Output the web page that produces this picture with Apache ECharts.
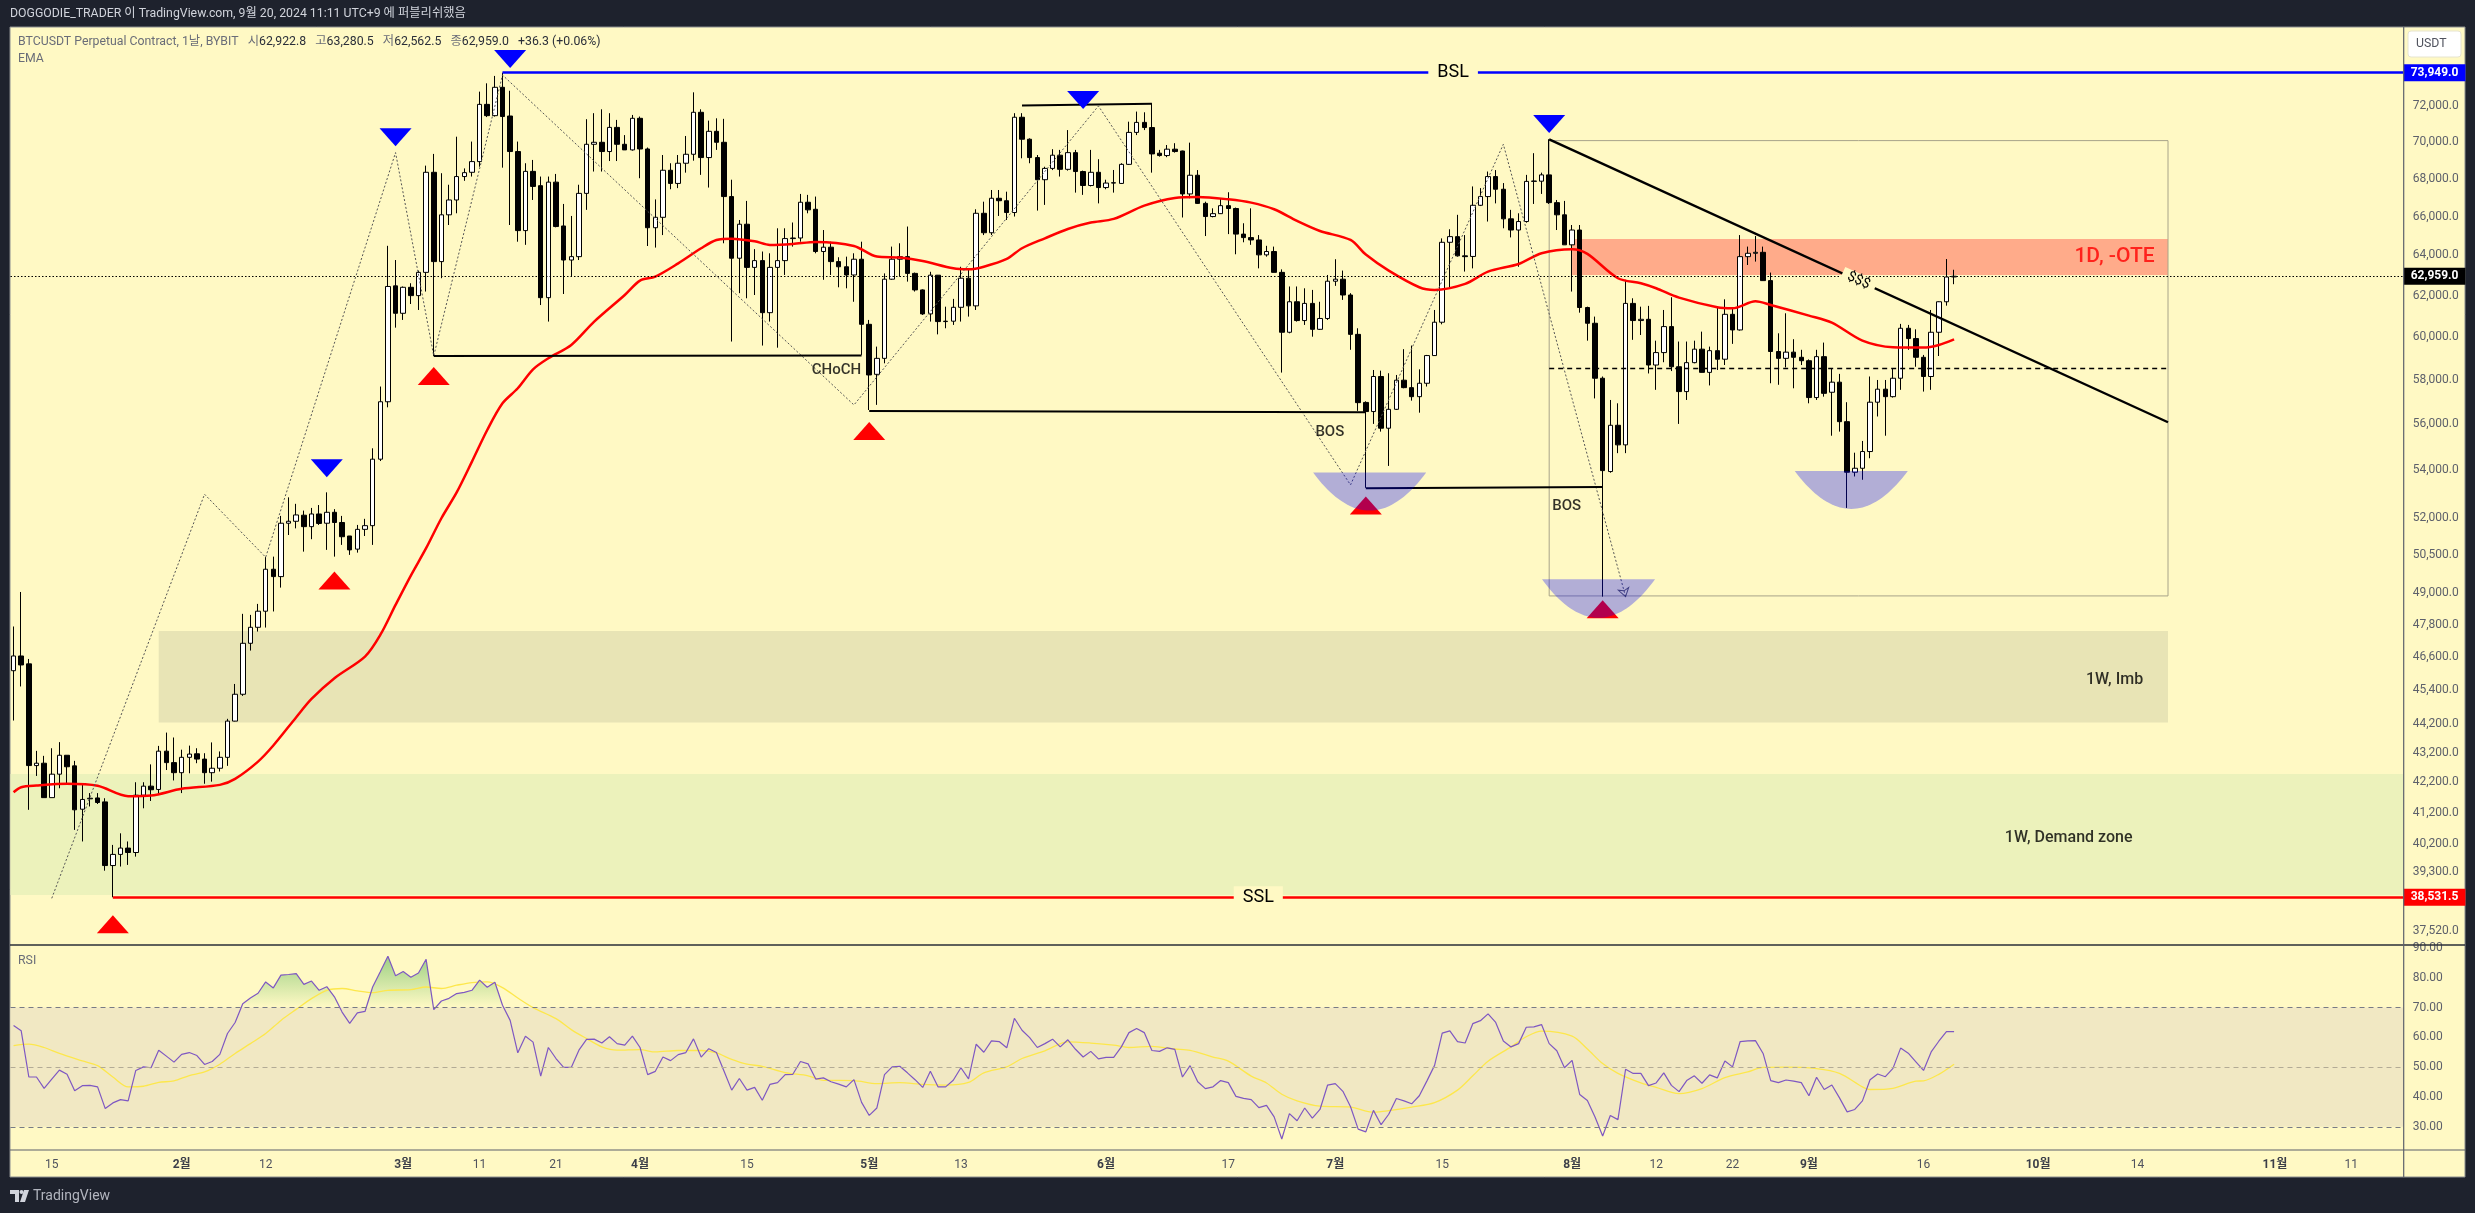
<!DOCTYPE html>
<html>
<head>
<meta charset="utf-8">
<title>BTCUSDT</title>
<script src="https://cdn.jsdelivr.net/npm/echarts@6/dist/echarts.min.js"></script>
<style>
html,body{margin:0;padding:0;background:#1e222d;}
#main{width:2475px;height:1213px;}
</style>
</head>
<body>
<div id="main"></div>
<script>
// daily candles from 2024-01-10, one row per day: open, close, low, high
var firstDay = '01-10';
var candles = [
// jan
[46090,46630,44310,47730],[46630,46300,45520,49050],[46340,42760,41290,46520],[42760,42840,42410,43260],[42840,41690,41690,43090],[41690,42470,41690,43350],[42470,43110,42000,43560],[43110,42720,42170,43110],[42750,41290,40640,42920],[41310,41630,40270,42170],[41650,41670,41400,41840],[41680,41530,41480,41840],[41550,39510,39350,41670],[39510,39860,38531.5,40160],[39860,40060,39480,40530],[40060,39920,39530,40270],[39920,41770,39790,42200],[41770,42070,41340,42200],[42070,41950,41580,42800],[41960,43250,41780,43430],[43250,42860,42610,43890],[42860,42520,42260,43720],
// feb
[42520,43040,41840,43300],[43040,43150,42500,43440],[43160,42980,42840,43350],[42980,42520,42150,43180],[42520,42670,42220,43550],[42670,43040,42560,43240],[43040,44290,42750,44370],[44290,45240,44280,45610],[45240,47100,45180,48210],[47100,47700,46830,48170],[47700,48310,47540,48590],[48310,49940,47690,50420],[49940,49650,48300,50440],[49650,51790,49220,52090],[51790,51870,51310,52860],[51870,52130,51580,52590],[52120,51650,50640,52310],[51650,52170,51140,52420],[52170,51780,51720,52540],[51790,52240,50710,53070],[52240,51820,50440,52370],[51820,51240,50910,52090],[51270,50710,50510,51270],[50740,51540,50600,51720],[51540,51690,51270,51970],[51690,54480,50910,54950],[54480,57010,54400,57700],[57010,62450,56760,64490],[62480,61140,60450,63770],
// mar
[61140,62410,60820,62450],[62410,62000,61590,62610],[62000,63150,61300,63240],[63150,68350,62200,68710],[68350,63690,59110,69350],[63690,66090,62860,68300],[66090,66870,65560,67680],[66870,68120,66170,70300],[68120,68330,67890,68560],[68350,68930,68120,70030],[68930,72120,68650,72850],[72120,71480,71400,73330],[71480,73100,71430,73760],[73100,71430,68600,73949],[71460,69480,65560,72900],[69480,65270,64700,70030],[65270,68400,64540,68840],[68400,67590,66870,69020],[67630,61900,61540,68120],[61900,67820,60740,68120],[67820,65480,65440,68260],[65510,63770,62080,66660],[63770,63940,62970,66030],[63940,67220,63770,67680],[67220,69880,66350,71280],[69880,69990,68390,71620],[69990,69480,68390,71840],[69480,70820,68960,71620],[70820,69880,68960,71240],[69880,69570,69570,70390],[69570,71330,69530,71520],
// apr
[71330,69620,68030,71430],[69620,65420,64480,69700],[65420,65960,64400,66900],[65960,68460,65040,69290],[68460,67750,67440,68840],[67750,68840,67500,69290],[68840,69330,68330,70340],[69330,71670,68980,72810],[71670,69150,68210,71840],[69150,70600,67530,71200],[70600,69990,69570,71330],[69990,67050,64620,71300],[67050,63860,59790,67950],[63860,65600,62120,65820],[65600,63400,61870,66820],[63400,63740,62030,64320],[63740,61170,59600,64200],[61170,63400,60740,64110],[63400,63740,59500,65390],[63740,64860,63020,65390],[64860,64890,64450,65690],[64890,66750,64700,67190],[66750,66350,66170,67140],[66380,64200,64110,67050],[64200,64420,62780,65300],[64420,63690,63020,64700],[63690,63430,62410,63910],[63430,63020,62360,63940],[63020,63810,61700,64110],[63810,60610,59160,64700],
// may
[60610,58230,56640,60820],[58260,59000,56870,59550],[59000,62810,58770,63100],[62810,63810,62780,64450],[63810,63940,62940,64620],[63940,63100,62690,65480],[63100,62280,62200,63140],[62280,61110,61060,62310],[61110,63010,60740,63180],[63010,60740,60130,63020],[60740,60760,60420,61460],[60760,61430,60580,61840],[61430,62860,60740,63430],[62860,61500,60980,63350],[61500,66170,61300,66380],[66170,65160,65040,66780],[65160,66960,65040,67400],[66960,66830,66030,67400],[66830,66210,65820,67310],[66210,71390,66000,71620],[71390,70160,69110,71620],[70160,69150,68840,70210],[69150,67950,66310,69290],[67950,68560,66610,68650],[68560,69280,68470,69610],[69280,68510,68120,69570],[68510,69420,68440,70670],[69420,68390,67260,69570],[68390,67640,67140,68440],[67640,68350,67590,69570],[68350,67530,66690,69060],
// jun
[67530,67770,67440,67950],[67770,67790,67260,68475],[67750,68780,67720,68840],[68780,70540,68750,71140],[70540,71100,70390,71710],[71100,70810,70670,71670],[70810,69350,68330,72180],[69390,69260,69200,69570],[69260,69610,69170,69840],[69610,69480,69420,69940],[69510,67190,65950,69530],[67190,68190,66960,69970],[68190,66690,66660,68470],[66690,66000,64990,66780],[66000,66150,65960,66430],[66150,66570,66140,66920],[66570,66420,65090,67280],[66420,65090,64060,66470],[65090,64910,64670,65650],[64910,64790,64540,66430],[64790,64030,63350,65040],[64030,64200,63940,64490],[64200,63150,63150,64450],[63150,60230,58340,63300],[60230,61700,60180,62450],[61700,60790,60740,62450],[60790,61620,60580,62360],[61620,60370,60020,62280],[60370,60890,60340,61700],[60890,62710,60820,63020],
// jul
[62710,62810,62480,63810],[62810,62030,61790,63240],[62030,60130,59400,62120],[60130,56970,56600,60420],[56980,56570,53260,57030],[56570,58160,56020,58460],[58160,55830,55680,58430],[55830,56670,54190,58310],[56670,57990,56640,58230],[57990,57650,57620,59430],[57650,57240,57060,59600],[57240,57850,56520,58490],[57850,59130,57700,59160],[59130,60710,59110,61300],[60710,64670,60610,64870],[64670,64960,62360,65340],[64960,63980,63940,66090],[63980,63940,63190,65040],[63950,66590,63350,67590],[66590,67050,66550,67500],[67050,68120,65740,68390],[68120,67440,66690,68470],[67440,65880,65390,67770],[65880,65300,64920,66350],[65300,65740,63430,66170],[65740,67860,65680,68210],[67860,67880,66660,69390],[67870,68210,67190,68330],[68210,66730,66660,70160],[66730,66090,65300,66870],[66090,64540,64540,66820],
// aug
[64540,65300,62200,65560],[65300,61420,61170,65560],[61420,60660,59830,61460],[60660,58080,57160,60980],[58080,53990,48870,58160],[53950,55960,53900,57090],[55960,55100,54740,56940],[55100,61620,54740,62780],[61620,60790,59870,61870],[60790,60850,60100,61460],[60850,58690,58300,61500],[58690,59270,57550,59830],[59270,60500,58820,61300],[60500,58610,58410,61920],[58610,57470,56020,59790],[57470,58800,57090,59790],[58800,59430,58770,59830],[59430,58350,58340,60260],[58350,59360,57750,59550],[59360,58960,58460,61460],[58960,61090,58690,61820],[61090,60340,59680,61380],[60340,63940,60310,65040],[63940,64110,63520,64450],[64110,64160,63690,64990],[64160,62740,62730,64450],[62740,59320,57850,63140],[59320,59000,57780,60180],[59000,59290,58580,61140],[59290,59050,57620,59900],[59050,58890,58690,59400],
// sep
[58890,57200,56940,58950],[57200,59080,57090,59400],[59080,57390,57240,59740],[57440,57900,55500,58540],[57900,56120,55680,58280],[56120,53920,52420,56990],[53920,54090,53740,54760],[54090,54810,53600,55270],[54810,56990,54520,58160],[56990,57580,56350,58000],[57580,57240,55500,58000],[57240,58080,57200,58540],[58080,60420,57550,60630],[60420,59930,59400,60580],[59930,59050,58610,60370],[59050,58160,57470,59160],[58160,60230,57550,61300],[60230,61700,59110,61720],[61700,62920,61510,63820],[62922.8,62959,62562.5,63280.5]
];

// EMA
var emaPoints = [
['01-10',41870],['01-11',42035],['01-13',42090],['01-17',42146],['01-21',42080],['01-25',41735],['01-28',41758],['02-01',41980],['02-06',42113],['02-08',42313],['02-11',42895],['02-13',43443],['02-16',44427],['02-18',45072],['02-21',45817],['02-25',46608],['02-27',47411],['02-29',48551],['03-02',49691],['03-04',50777],['03-06',51995],['03-08',53066],['03-10',54375],['03-12',55752],['03-14',56940],['03-16',57622],['03-18',58491],['03-20',59004],['03-23',59630],['03-26',60741],['03-30',62033],['04-01',62742],['04-03',62940],['04-06',63604],['04-09',64366],['04-11',64789],['04-13',64857],['04-16',64722],['04-18',64536],['04-21',64587],['04-24',64688],['04-29',64485],['05-02',63943],['05-05',63892],['05-08',63723],['05-12',63352],['05-14',63303],['05-16',63435],['05-19',63825],['05-21',64366],['05-24',64874],['05-27',65354],['05-30',65685],['06-02',65876],['06-06',66572],['06-10',66975],['06-13',67028],['06-17',66904],['06-20',66729],['06-23',66381],['06-26',65772],['06-29',65250],['07-03',64789],['07-05',64044],['07-08',63237],['07-12',62412],['07-14',62280],['07-18',62577],['07-21',63188],['07-25',63570],['07-28',64112],['08-01',64316],['08-03',64078],['08-07',62858],['08-10',62610],['08-12',62362],['08-15',61900],['08-20',61431],['08-22',61384],['08-25',61721],['08-27',61544],['09-01',61029],['09-04',60692],['09-08',59834],['09-12',59521],['09-16',59505],['09-18',59630],['09-20',59896]
];

// RSI, one value per candle
var rsi = [
63.96,62.2,46.7,46.7,42.9,46.0,49.0,47.6,42.1,43.8,43.9,43.4,36.1,38.0,39.1,38.7,48.9,50.1,49.8,55.7,53.7,51.7,
54.3,54.9,53.9,50.9,51.9,54.3,61.3,65.0,71.3,73.2,74.8,78.6,76.6,80.9,81.1,81.4,77.8,78.9,75.8,77.0,73.6,68.5,64.7,68.2,68.7,76.9,82.0,87.2,80.7,
82.1,80.2,81.6,86.2,69.3,72.2,73.1,74.7,75.1,75.8,79.2,76.8,78.5,70.8,65.7,54.8,60.4,58.4,47.0,56.6,52.9,49.9,49.9,55.7,59.3,59.4,58.1,60.2,57.9,57.4,60.4,
56.6,47.5,48.6,53.4,52.2,54.2,54.9,59.5,53.4,56.2,54.9,48.6,42.3,46.2,42.3,43.2,38.9,44.2,44.8,47.5,47.6,51.9,51.1,46.0,46.4,45.1,44.3,43.4,45.8,38.2,
33.8,36.3,47.5,50.1,50.3,48.1,45.8,43.2,48.6,43.4,43.4,45.6,49.8,46.1,57.7,55.0,58.8,58.6,56.5,66.4,62.4,59.9,56.6,57.9,59.4,56.8,59.2,56.0,53.4,55.3,52.8,
53.3,53.3,56.8,61.6,63.0,61.6,55.6,55.3,56.5,56.0,46.7,50.5,45.1,42.8,43.4,45.5,44.8,40.2,39.5,39.1,36.4,37.2,33.3,25.9,34.4,32.0,36.3,32.9,35.8,44.0,
44.5,41.9,36.7,29.2,28.3,35.5,30.7,34.2,39.5,38.7,37.7,40.4,45.4,50.6,61.4,62.2,58.6,58.1,64.6,65.6,67.9,65.0,58.8,56.8,57.9,63.4,63.5,64.3,57.9,55.5,49.8,
52.3,40.8,38.8,33.3,26.9,33.8,32.4,49.3,47.9,47.9,43.8,44.7,48.1,43.9,41.8,45.5,47.1,44.6,47.4,46.4,52.1,50.1,58.6,58.8,58.9,54.6,45.5,44.8,45.7,45.3,44.8,
40.4,46.6,42.5,44.0,39.7,35.0,35.8,38.7,45.8,47.7,46.8,49.6,56.4,54.7,51.8,48.9,55.1,58.7,61.9,61.9
];

// RSI moving average
var rsiMaPoints = [
['01-10',57.2],['01-12',57.7],['01-14',56.6],['01-16',54.6],['01-19',52.1],['01-21',50.5],['01-23',46.7],['01-25',43.4],['01-27',43.6],['01-29',44.9],['01-31',45.4],['02-02',47.2],['02-04',48.4],['02-06',51.0],['02-08',54.6],['02-10',57.9],['02-12',61.3],['02-14',65.7],['02-16',69.4],['02-18',73.0],['02-20',75.8],['02-22',76.4],['02-24',75.6],['02-26',75.0],['02-28',75.8],['03-02',76.0],['03-04',76.9],['03-06',76.4],['03-08',77.5],['03-10',78.4],['03-12',78.6],['03-14',76.7],['03-16',73.2],['03-18',70.0],['03-21',66.3],['03-23',62.6],['03-25',59.6],['03-27',56.8],['03-29',55.7],['04-01',55.9],['04-03',55.1],['04-06',55.6],['04-09',55.6],['04-11',54.8],['04-13',52.6],['04-15',51.0],['04-17',50.3],['04-20',48.2],['04-23',47.1],['04-25',45.6],
['04-29',45.5],['05-02',44.5],['05-05',44.8],['05-08',44.2],['05-11',44.0],['05-14',44.9],['05-16',48.1],['05-19',50.1],['05-21',52.9],['05-24',55.5],['05-27',58.5],['05-30',58.1],['06-02',57.4],['06-04',56.6],['06-07',57.0],['06-10',56.1],['06-12',55.6],['06-15',53.4],['06-17',52.0],['06-20',47.0],['06-22',44.7],['06-24',40.9],['06-26',38.7],['06-29',36.9],['07-03',36.6],['07-06',34.9],['07-08',35.4],['07-11',36.6],['07-14',38.1],['07-17',42.3],['07-19',47.1],['07-21',52.0],['07-24',56.8],['07-26',60.2],['07-28',62.1],['08-01',60.4],['08-03',56.1],['08-05',51.2],['08-07',47.9],['08-10',44.7],
['08-12',43.2],['08-15',41.1],['08-18',42.8],['08-21',46.5],['08-24',48.4],['08-26',49.9],['08-29',50.0],['09-02',49.5],['09-05',47.9],['09-08',43.4],['09-09',42.5],['09-12',42.9],['09-15',45.3],['09-16',45.4],['09-18',47.6],['09-20',51.0]
];

// drawings on the price pane
var zigzag = [['01-15',38500],['02-04',52990],['02-12',50416],['02-29',69422],['03-05',59114],['03-14',73812],['04-29',56866],['05-31',72029],['07-03',53383],['07-23',69881],['08-08',48871]];
var structureLines = [
[['03-05',59114],['04-30',59130]],
[['05-01',56598],['07-05',56540]],
[['05-21',72060],['06-07',72160]],
[['07-05',53242],['08-05',53298]]
];
var lastPrice = 62959.0;
var bslLine = [['03-14',73949],['11-30',73949]];
var sslLine = [['01-23',38531.5],['11-30',38531.5]];
var trendLine = [['07-29',70156],['10-18',56094]];
var midLine = [['07-29',58537],['10-18',58537]];
var oteZone = [['08-01',64840],['10-18',63023]];
var fibBox = [['07-29',70083],['10-18',48897]];
var imbZone = [['01-29',47562],['10-18',44240]];
var demandZone = [['01-01',42480],['11-30',38600]];
var blueMarks = [['02-29',70266],['03-15',74756],['05-29',72368],['07-29',71012],['02-20',54088]];
var redMarks = [['03-05',58186],['05-01',55708],['02-21',49495],['01-23',37720],['07-05',52517],['08-05',48386]];
// bowl: centre, half width in days, top price, bottom price
var bowls = [['07-05 12:00',7.4,53905,52311],['08-04 11:00',7.4,49547,48057],['09-06 13:00',7.4,53970,52380]];
var blackNotes = [['04-26 17:00',58461,'CHoCH'],['06-30 07:00',55650,'BOS'],['07-31 07:00',52470,'BOS']];
var zoneNotes = [['10-11',45750,'1W, Imb'],['10-05',40380,'1W, Demand zone']];
var redNotes = [['10-11',63910,'1D, -OTE']];

// axis labels
var priceTicks = [72000,70000,68000,66000,64000,62000,60000,58000,56000,54000,52000,50500,49000,47800,46600,45400,44200,43200,42200,41200,40200,39300,37520];
var rsiTicks = [30,40,50,60,70,80,90];
var timeTicks = [['01-15','15'],['02-01','2월'],['02-12','12'],['03-01','3월'],['03-11','11'],['03-21','21'],['04-01','4월'],['04-15','15'],['05-01','5월'],['05-13','13'],['06-01','6월'],['06-17','17'],['07-01','7월'],['07-15','15'],['08-01','8월'],['08-12','12'],['08-22','22'],['09-01','9월'],['09-16','16'],['10-01','10월'],['10-14','14'],['11-01','11월'],['11-11','11']];

var DAY = 864e5;
function d(s){ return echarts.time.parse('2024-' + s).getTime(); }
function pts(list){ return list.map(function(p){ return [d(p[0]), p[1]]; }); }

if (rsi.length !== candles.length) throw new Error('rsi ' + rsi.length + ' candles ' + candles.length);

var xMin = d('02-01') - 22.4 * DAY;
var xMax = d('02-01') + 290.85 * DAY;
var plotBg = '#fff9c4';
var font = 'Roboto, "Noto Sans CJK KR", sans-serif';
var axisGrey = '#5d606b';

var candleData = candles.map(function(c, i){ return [d(firstDay) + i * DAY, c[0], c[1], c[2], c[3]]; });
var rsiData = rsi.map(function(v, i){ return [d(firstDay) + i * DAY, v]; });
var rsiOver = rsi.map(function(v, i){ return [d(firstDay) + i * DAY, Math.max(v, 70)]; });

var tickText = {};
timeTicks.forEach(function(t){ tickText[d(t[0])] = t[1]; });

function fmt(v){ return v.toLocaleString('en-US', {minimumFractionDigits:1, maximumFractionDigits:1}); }
function clampX(p){ return Math.min(p, xMax); }
function seg(line, first){
  return [Object.assign({coord:[Math.max(d(line[0][0]), xMin), line[0][1]]}, first || {}), {coord:[clampX(d(line[1][0])), line[1][1]]}];
}
function rect(z, style){
  return [{coord:[Math.max(d(z[0][0]), xMin), z[0][1]], itemStyle:style}, {coord:[clampX(d(z[1][0])), z[1][1]]}];
}
function tag(bg){
  return {show:true, position:'end', distance:0, color:'#fff', fontFamily:font, fontWeight:'bold', fontSize:12,
    backgroundColor:bg, padding:[3,7,2,7], formatter:function(p){ return fmt(p.value); }};
}
function midText(text, size, pad){
  return {show:true, position:'insideMiddle', formatter:text, color:'#000000', fontSize:size, fontFamily:font, backgroundColor:plotBg, padding:pad, distance:0};
}
function notes(rows, color, size){
  return {type:'scatter', xAxisIndex:0, yAxisIndex:0, z:8, symbolSize:1, silent:true,
    itemStyle:{color:'rgba(0,0,0,0)'},
    data:rows.map(function(n){ return {value:[d(n[0]), n[1]], label:{show:true, position:'inside', formatter:n[2], color:color, fontSize:size, fontWeight:500, fontFamily:font}}; })};
}
function marks(rows, color, rotate){
  return {type:'scatter', xAxisIndex:0, yAxisIndex:0, z:6, symbol:'triangle', symbolSize:[32,18], symbolRotate:rotate, silent:true,
    itemStyle:{color:color, opacity:1}, data:pts(rows)};
}

var series = [
  // zones sit under the candles
  {type:'line', xAxisIndex:0, yAxisIndex:0, z:1, data:[], silent:true,
    markArea:{silent:true, data:[
      rect(demandZone, {color:'#ecf2bb'}),
      rect(imbZone, {color:'#e8e4b5'}),
      rect(oteZone, {color:'#ffab8a'}),
      rect(fibBox, {color:'rgba(0,0,0,0)', borderColor:'#a8a48a', borderWidth:1})
    ]}},
  {type:'candlestick', xAxisIndex:0, yAxisIndex:0, z:3, silent:true, barWidth:5, data:candleData,
    encode:{x:0, y:[1,2,3,4]},
    itemStyle:{color:'#ffffff', color0:'#000000', borderColor:'#000000', borderColor0:'#000000', borderWidth:1}},
  {type:'line', name:'EMA', xAxisIndex:0, yAxisIndex:0, z:4, showSymbol:false, smooth:0.3, silent:true,
    lineStyle:{color:'#ff0000', width:2.5}, data:pts(emaPoints)},
  {type:'line', name:'zigzag', xAxisIndex:0, yAxisIndex:0, z:4, showSymbol:false, silent:true,
    lineStyle:{color:'#555555', width:1, type:[2,2]}, data:pts(zigzag)},
  // small open arrow head where the zigzag stops
  {type:'scatter', xAxisIndex:0, yAxisIndex:0, z:4, symbol:'arrow', symbolSize:8, symbolRotate:195, silent:true,
    itemStyle:{color:'rgba(0,0,0,0)', borderColor:'#333333', borderWidth:1}, data:pts(zigzag.slice(-1))}
];
structureLines.forEach(function(l){
  series.push({type:'line', xAxisIndex:0, yAxisIndex:0, z:5, showSymbol:false, silent:true,
    lineStyle:{color:'#000000', width:2}, data:pts(l)});
});
series.push({type:'line', xAxisIndex:0, yAxisIndex:0, z:5, data:[], silent:true,
  markLine:{silent:true, symbol:'none', animation:false, data:[
    {yAxis:lastPrice, lineStyle:{color:'#000000', width:1, type:[1.5,2]}, label:tag('#000000')},
    seg(midLine, {lineStyle:{color:'#000000', width:1.3, type:[5,4]}, label:{show:false}}),
    seg(trendLine, {lineStyle:{color:'#000000', width:2.4, type:'solid'}, label:midText('$$$', 14, [0,6])}),
    seg(bslLine, {lineStyle:{color:'#0000ff', width:2.5, type:'solid'}, label:midText('BSL', 18, [2,9])}),
    seg(sslLine, {lineStyle:{color:'#ff0000', width:2.5, type:'solid'}, label:midText('SSL', 18, [2,9])}),
    {yAxis:73949, lineStyle:{color:'rgba(0,0,0,0)', width:0}, label:tag('#0000ff')},
    {yAxis:38531.5, lineStyle:{color:'rgba(0,0,0,0)', width:0}, label:tag('#ff0000')}
  ]}
});
series.push(marks(blueMarks, '#0000ff', 180));
series.push(marks(redMarks, '#ff0000', 0));
series.push({type:'custom', xAxisIndex:0, yAxisIndex:0, z:7, silent:true, data:bowls.map(function(b){ return [d(b[0]), b[1], b[2], b[3]]; }),
  encode:{x:0, y:[2,3]},
  renderItem:function(params, api){
    var c = api.value(0), hw = api.value(1) * DAY, top = api.value(2), bottom = api.value(3);
    var l = api.coord([c - hw, top]), r = api.coord([c + hw, top]), b = api.coord([c, bottom]);
    var cx = (l[0] + r[0]) / 2, half = (r[0] - l[0]) / 2, h = b[1] - l[1], points = [];
    for (var i = -20; i <= 20; i++) {
      var u = i / 20;
      points.push([cx + half * u, l[1] + h * (1 - u * u)]);
    }
    return {type:'polygon', shape:{points:points}, style:{fill:'rgba(0,0,255,0.3)'}};
  }});
series.push(notes(blackNotes, '#000000', 15));
series.push(notes(zoneNotes, '#000000', 16));
series.push(notes(redNotes, '#ff0000', 21));
// rsi pane
series.push({type:'line', xAxisIndex:1, yAxisIndex:1, z:1, data:[], silent:true,
  markArea:{silent:true, itemStyle:{color:'#f1e8c3'}, data:[[{yAxis:70},{yAxis:30}]]},
  markLine:{silent:true, symbol:'none', label:{show:false}, data:[
    {yAxis:70, lineStyle:{color:'#787b86', width:1.2, type:[5,4]}},
    {yAxis:50, lineStyle:{color:'#b3ab96', width:1.2, type:[5,4]}},
    {yAxis:30, lineStyle:{color:'#787b86', width:1.2, type:[5,4]}}
  ]}});
series.push({type:'line', xAxisIndex:1, yAxisIndex:1, z:2, showSymbol:false, silent:true, data:rsiOver,
  lineStyle:{opacity:0},
  areaStyle:{origin:70, opacity:1, color:new echarts.graphic.LinearGradient(0,0,0,1,[
    {offset:0, color:'rgba(76,175,80,0.55)'},{offset:1, color:'rgba(76,175,80,0)'}])}});
series.push({type:'line', name:'RSI-MA', xAxisIndex:1, yAxisIndex:1, z:3, showSymbol:false, smooth:0.3, silent:true,
  lineStyle:{color:'#fde74c', width:1.3}, data:pts(rsiMaPoints)});
series.push({type:'line', name:'RSI', xAxisIndex:1, yAxisIndex:1, z:4, showSymbol:false, silent:true,
  lineStyle:{color:'#7e57c2', width:1.2}, data:rsiData});

function gText(x, y, text, style){
  return {type:'text', x:x, y:y, silent:true, z:20, style:Object.assign({text:text, fontFamily:font, fontSize:12.3, fill:'#50535e', verticalAlign:'middle'}, style || {})};
}
function gLine(x1, y1, x2, y2, color, w){
  return {type:'line', silent:true, z:20, shape:{x1:x1, y1:y1, x2:x2, y2:y2}, style:{stroke:color, lineWidth:w || 1}};
}
var legendRich = {
  g:{fill:'#6a6d78', fontFamily:font, fontSize:12.3, verticalAlign:'middle'},
  v:{fill:'#2a2e39', fontFamily:font, fontSize:12.3, verticalAlign:'middle'}
};

var option = {
  animation:false,
  backgroundColor:'#1e222d',
  textStyle:{fontFamily:font},
  grid:[
    {left:10.5, top:27.3, width:2393.2, height:917.7},
    {left:10.5, top:945, width:2393.2, height:205}
  ],
  xAxis:[
    {type:'value', gridIndex:0, min:xMin, max:xMax, axisLine:{show:false}, axisTick:{show:false}, axisLabel:{show:false}, splitLine:{show:false}},
    {type:'value', gridIndex:1, min:xMin, max:xMax, axisLine:{show:false}, axisTick:{show:false}, splitLine:{show:false},
      axisLabel:{show:true, margin:9, fontSize:12, color:'#50535e', fontFamily:font, hideOverlap:false,
        customValues:timeTicks.map(function(t){ return d(t[0]); }),
        formatter:function(v){
          var t = tickText[v] || '';
          return t.indexOf('월') > 0 ? '{m|' + t + '}' : t;
        },
        rich:{m:{fontWeight:'bold', color:'#3b3e48', fontSize:12, fontFamily:font}}}}
  ],
  yAxis:[
    {type:'log', gridIndex:0, position:'right', min:37105, max:76651, axisLine:{show:false}, axisTick:{show:false}, splitLine:{show:false},
      axisLabel:{margin:9, fontSize:12, color:'#5d606b', fontFamily:font, customValues:priceTicks, formatter:function(v){ return fmt(v); }}},
    {type:'value', gridIndex:1, position:'right', min:22.2, max:91, axisLine:{show:false}, axisTick:{show:false}, splitLine:{show:false},
      axisLabel:{margin:9, fontSize:12, color:'#5d606b', fontFamily:font, customValues:rsiTicks, formatter:function(v){ return v.toFixed(2); }}}
  ],
  graphic:[
    {type:'rect', silent:true, z:-10, shape:{x:10, y:27, width:2455, height:1150}, style:{fill:plotBg, stroke:'#8a8d8f', lineWidth:1}},
    gLine(10, 945, 2465, 945, '#2a2e39', 1.5),
    gLine(10, 1150, 2465, 1150, axisGrey, 1.2),
    gLine(2403.7, 27, 2403.7, 1177, axisGrey, 1.2),
    gText(10, 14, 'DOGGODIE_TRADER 이 TradingView.com, 9월 20, 2024 11:11 UTC+9 에 퍼블리쉬했음', {fill:'#d1d4dc'}),
    {type:'text', x:18, y:42, silent:true, z:20, style:{
      text:'{g|BTCUSDT Perpetual Contract, 1날, BYBIT   시}{v|62,922.8}{g|   고}{v|63,280.5}{g|   저}{v|62,562.5}{g|   종}{v|62,959.0}{v|   +36.3 (+0.06%)}',
      rich:legendRich, verticalAlign:'middle', fontFamily:font, fontSize:12.3}},
    gText(18, 59, 'EMA', {fill:'#6a6d78'}),
    gText(18, 961, 'RSI', {fill:'#6a6d78'}),
    {type:'rect', silent:true, z:20, shape:{x:2408, y:31, width:53, height:26, r:3}, style:{fill:'#ffffff', stroke:'#e6e4d0'}},
    gText(2416, 44, 'USDT', {fill:'#50535e'}),
    // logo
    {type:'polygon', silent:true, z:20, shape:{points:[[10,1190],[19,1190],[19,1202],[15,1202],[15,1194],[10,1194]]}, style:{fill:'#d1d4dc'}},
    {type:'circle', silent:true, z:20, shape:{cx:21.5, cy:1192, r:2}, style:{fill:'#d1d4dc'}},
    {type:'polygon', silent:true, z:20, shape:{points:[[24,1190],[29,1190],[25,1202],[20,1202]]}, style:{fill:'#d1d4dc'}},
    gText(33, 1196, 'TradingView', {fill:'#b2b5be', fontSize:14})
  ],
  series:series
};

var myChart = echarts.init(document.getElementById('main'), null, {renderer:'canvas'});
myChart.setOption(option);
</script>
</body>
</html>
